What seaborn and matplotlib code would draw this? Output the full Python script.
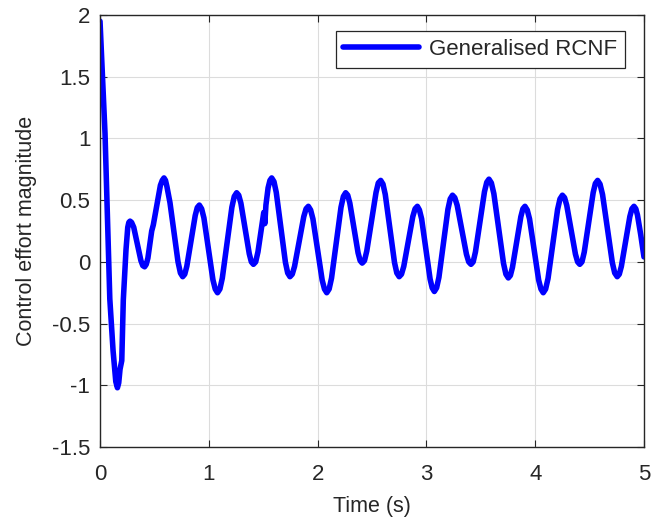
import matplotlib
matplotlib.use("Agg")
import matplotlib.pyplot as plt
import seaborn as sns
import pandas as pd

# Time samples (s)
time_s = [
    0.00, 0.046, 0.09, 0.12, 0.145, 0.16, 0.172, 0.184, 0.20, 0.214, 0.239, 0.255,
    0.265, 0.276, 0.29, 0.31, 0.343, 0.376, 0.393, 0.41, 0.425, 0.44,
    0.475, 0.49, 0.52, 0.555, 0.572, 0.588, 0.602, 0.615, 0.643, 0.674,
    0.717, 0.739, 0.76, 0.779, 0.798, 0.837, 0.875, 0.894, 0.913, 0.934,
    0.955, 0.997, 1.038, 1.059, 1.08, 1.102, 1.124, 1.168, 1.212, 1.234,
    1.256, 1.275, 1.295, 1.333, 1.372, 1.391, 1.41, 1.431, 1.452, 1.494,
    1.505, 1.515, 1.525, 1.545, 1.562, 1.578, 1.599, 1.62, 1.662, 1.704,
    1.725, 1.746, 1.767, 1.788, 1.83, 1.873, 1.894, 1.915, 1.936, 1.957,
    2.0, 2.042, 2.063, 2.084, 2.106, 2.128, 2.171, 2.215, 2.237, 2.258,
    2.277, 2.296, 2.334, 2.372, 2.391, 2.41, 2.431, 2.452, 2.495, 2.537,
    2.558, 2.58, 2.601, 2.622, 2.665, 2.707, 2.728, 2.75, 2.771, 2.792,
    2.833, 2.875, 2.896, 2.917, 2.936, 2.956, 2.995, 3.034, 3.053, 3.073,
    3.094, 3.115, 3.156, 3.198, 3.219, 3.24, 3.261, 3.283, 3.325, 3.368,
    3.389, 3.41, 3.43, 3.451, 3.493, 3.534, 3.555, 3.575, 3.597, 3.62,
    3.664, 3.709, 3.731, 3.753, 3.772, 3.791, 3.83, 3.868, 3.887, 3.906,
    3.927, 3.948, 3.99, 4.032, 4.053, 4.074, 4.096, 4.118, 4.162, 4.206,
    4.228, 4.25, 4.27, 4.29, 4.33, 4.37, 4.39, 4.41, 4.43, 4.451,
    4.492, 4.533, 4.553, 4.574, 4.596, 4.619, 4.664, 4.709, 4.731, 4.754,
    4.773, 4.792, 4.831, 4.87, 4.889, 4.908, 4.925, 4.94, 4.97, 5.00,
]

# Control effort magnitude
effort = [
    1.95, 1.04, -0.30, -0.72, -0.97, -1.02, -0.98, -0.87, -0.80, -0.31, 0.10, 0.28,
    0.32, 0.33, 0.32, 0.28, 0.145, 0.01, -0.03, -0.04, -0.02, 0.03,
    0.25, 0.30, 0.45, 0.62, 0.66, 0.68, 0.66, 0.61, 0.48, 0.28,
    0.00, -0.09, -0.12, -0.10, -0.035, 0.17, 0.375, 0.44, 0.46, 0.43,
    0.356, 0.105, -0.146, -0.22, -0.25, -0.22, -0.132, 0.155, 0.442, 0.53,
    0.56, 0.54, 0.475, 0.27, 0.065, 0.00, -0.02, 0.00, 0.082, 0.33,
    0.40, 0.31, 0.46, 0.60, 0.66, 0.68, 0.65, 0.563, 0.28, -0.003,
    -0.09, -0.12, -0.10, -0.037, 0.165, 0.367, 0.43, 0.45, 0.42, 0.348,
    0.10, -0.148, -0.22, -0.25, -0.22, -0.132, 0.155, 0.442, 0.53, 0.56,
    0.54, 0.477, 0.275, 0.073, 0.01, -0.01, 0.01, 0.088, 0.325, 0.562,
    0.64, 0.66, 0.63, 0.546, 0.27, -0.006, -0.09, -0.12, -0.10, -0.037,
    0.165, 0.367, 0.43, 0.45, 0.42, 0.349, 0.105, -0.139, -0.21, -0.24,
    -0.21, -0.126, 0.15, 0.426, 0.51, 0.54, 0.52, 0.458, 0.26, 0.062,
    0.00, -0.02, 0.00, 0.081, 0.325, 0.569, 0.645, 0.67, 0.64, 0.553,
    0.27, -0.013, -0.10, -0.13, -0.11, -0.045, 0.16, 0.365, 0.43, 0.45,
    0.42, 0.348, 0.10, -0.148, -0.22, -0.25, -0.22, -0.135, 0.145, 0.425,
    0.51, 0.54, 0.52, 0.458, 0.26, 0.062, 0.00, -0.02, 0.00, 0.079,
    0.32, 0.561, 0.635, 0.66, 0.63, 0.546, 0.27, -0.006, -0.09, -0.12,
    -0.10, -0.037, 0.165, 0.367, 0.43, 0.45, 0.43, 0.38, 0.22, 0.04,
]

series_name = "Generalised RCNF"
x_ticks = [0, 1, 2, 3, 4, 5]
x_tick_labels = ["0", "1", "2", "3", "4", "5"]
y_ticks = [-1.5, -1.0, -0.5, 0.0, 0.5, 1.0, 1.5, 2.0]
y_tick_labels = ["-1.5", "-1", "-0.5", "0", "0.5", "1", "1.5", "2"]

df = pd.DataFrame({"Time (s)": time_s, "effort": effort, "series": series_name})

sns.set_theme(style="whitegrid")
plt.rcParams["font.family"] = ["Liberation Sans", "DejaVu Sans"]

fig = plt.figure(figsize=(6.52, 5.27), dpi=100)
ax = fig.add_axes([0.1534, 0.1518, 0.8343, 0.8197])
ax.set_facecolor("white")

sns.lineplot(data=df, x="Time (s)", y="effort", hue="series",
             palette=["#0000ff"], linewidth=4.0, ax=ax, sort=False,
             estimator=None, solid_joinstyle="round", solid_capstyle="round")

ax.set_xlim(0, 5)
ax.set_ylim(-1.5, 2)
ax.set_xticks(x_ticks)
ax.set_xticklabels(x_tick_labels)
ax.set_yticks(y_ticks)
ax.set_yticklabels(y_tick_labels)
ax.grid(True, color="#dcdcdc", linewidth=0.8)

for s in ax.spines.values():
    s.set_visible(True)
    s.set_color("#262626")
    s.set_linewidth(1.0)

ax.tick_params(direction="in", length=5, width=0.8, color="#262626",
               top=True, right=True, bottom=True, left=True,
               labelsize=16, labelcolor="#262626", pad=7)
ax.tick_params(axis="x", pad=12)

ax.set_xlabel("Time (s)", fontsize=15.5, color="#262626", labelpad=8)
ax.set_ylabel("Control effort magnitude", fontsize=15.5, color="#262626", labelpad=11)

leg = ax.legend(loc="upper right", bbox_to_anchor=(0.965, 0.962),
                borderaxespad=0, fontsize=16, frameon=True, fancybox=False,
                handlelength=3.4, handletextpad=0.45, borderpad=0.35)
leg.get_frame().set_edgecolor("#262626")
leg.get_frame().set_linewidth(0.9)
leg.get_frame().set_alpha(1)

fig.savefig("out.png", dpi=100, facecolor="white")
